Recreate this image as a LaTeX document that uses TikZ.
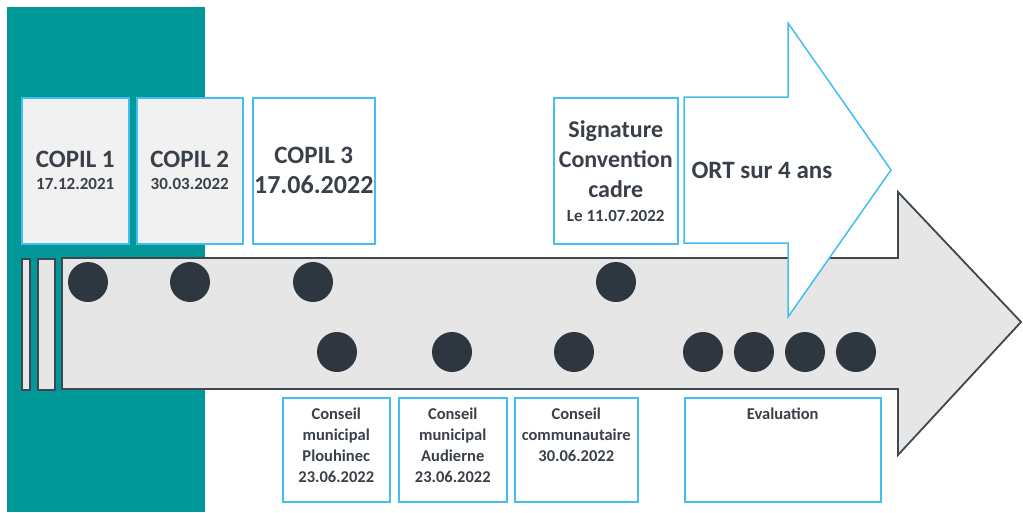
\documentclass[tikz,border=0pt]{standalone}
\usepackage{fontspec}
\setmainfont{Carlito}
\usetikzlibrary{positioning}
\definecolor{bandteal}{RGB}{0,152,152}
\definecolor{lineblue}{RGB}{66,190,240}
\definecolor{boxgray}{RGB}{241,241,241}
\definecolor{arrowgray}{RGB}{230,230,230}
\definecolor{edgegray}{RGB}{62,70,78}
\definecolor{dotgray}{RGB}{46,55,64}
\definecolor{textgray}{RGB}{58,64,73}
\newcommand{\titlesize}{\fontsize{25}{30}\selectfont}
\newcommand{\datesize}{\fontsize{17}{21}\selectfont}
\newcommand{\notesize}{\fontsize{16.5}{21}\selectfont}
\tikzset{
  box/.style      = { rectangle, inner sep=0pt, anchor=north west, align=center },
  border/.style   = { draw=lineblue, line width=1.5pt },
  copil/.style    = { box, border, fill=boxgray, minimum height=146pt, font=\bfseries\titlesize },
  milestone/.style= { box, border, fill=white, minimum height=146pt, font=\bfseries\titlesize },
  council/.style  = { box, border, fill=white, minimum height=104pt },
  note/.style     = { anchor=north, yshift=-7pt, align=center, font=\bfseries\notesize },
  dot/.style      = { circle, fill=dotgray, minimum size=40pt, inner sep=0pt },
  bar/.style      = { rectangle, draw=edgegray, line width=1.5pt, fill=arrowgray,
                      inner sep=0pt, anchor=north west, minimum height=131pt },
}
\begin{document}
\begin{tikzpicture}[x=1pt,y=-1pt,font=\bfseries,text=textgray]
  \useasboundingbox (0,0) rectangle (1023,512);
  \fill[bandteal] (7,7) rectangle (205,512);

  % top boxes
  \node (copil1) [copil,minimum width=107pt] at (21,97)  {COPIL 1\\[-8pt]\datesize 17.12.2021};
  \node (copil2) [copil,minimum width=106pt] at (136,97) {COPIL 2\\[-8pt]\datesize 30.03.2022};
  \node (copil3) [milestone,minimum width=122pt] at (252,97)
        {COPIL 3\\\fontsize{26}{30}\selectfont 17.06.2022};
  \node (sign)   [milestone,minimum width=124pt] at (553,97)
        {\fontsize{24}{30}\selectfont Signature\\\fontsize{24}{30}\selectfont Convention\\
         \fontsize{24}{30}\selectfont cadre\\[-6pt]\datesize Le 11.07.2022};

  % timeline
  \draw[edgegray,line width=1.8pt,fill=arrowgray]
    (62,258) -- (898,258) -- (898,192) -- (1021,322) -- (898,455) -- (898,389) -- (62,389) -- cycle;
  \node (bar1) [bar,minimum width=8pt]  at (21,258) {};
  \node (bar2) [bar,minimum width=17pt] at (37,258) {};

  % ORT arrow
  \draw[lineblue,line width=1.5pt,fill=white]
    (684,97) -- (788,97) -- (788,23) -- (891,170) -- (788,317) -- (788,243) -- (684,243) -- cycle;
  \node (ort) [anchor=west,font=\bfseries\titlesize] at (688,170) {ORT sur 4 ans};

  \foreach \x/\n in {88/a,190/b,313/c,616/d}
    \node (top\n) [dot] at (\x,282) {};
  \foreach \x/\n in {337/a,452/b,574/c,703/d,754/e,805/f,856/g}
    \node (low\n) [dot] at (\x,352) {};

  % bottom boxes
  \node (plou) [council,minimum width=107pt,
        label={[note]north:Conseil\\municipal\\Plouhinec\\23.06.2022}] at (282,397) {};
  \node (aud)  [council,minimum width=108pt,
        label={[note]north:Conseil\\municipal\\Audierne\\23.06.2022}] at (398,397) {};
  \node (comm) [council,minimum width=123pt,
        label={[note]north:Conseil\\communautaire\\30.06.2022}] at (514,397) {};
  \node (eval) [council,minimum width=196pt,
        label={[note]north:Evaluation}] at (684,397) {};
\end{tikzpicture}
\end{document}
